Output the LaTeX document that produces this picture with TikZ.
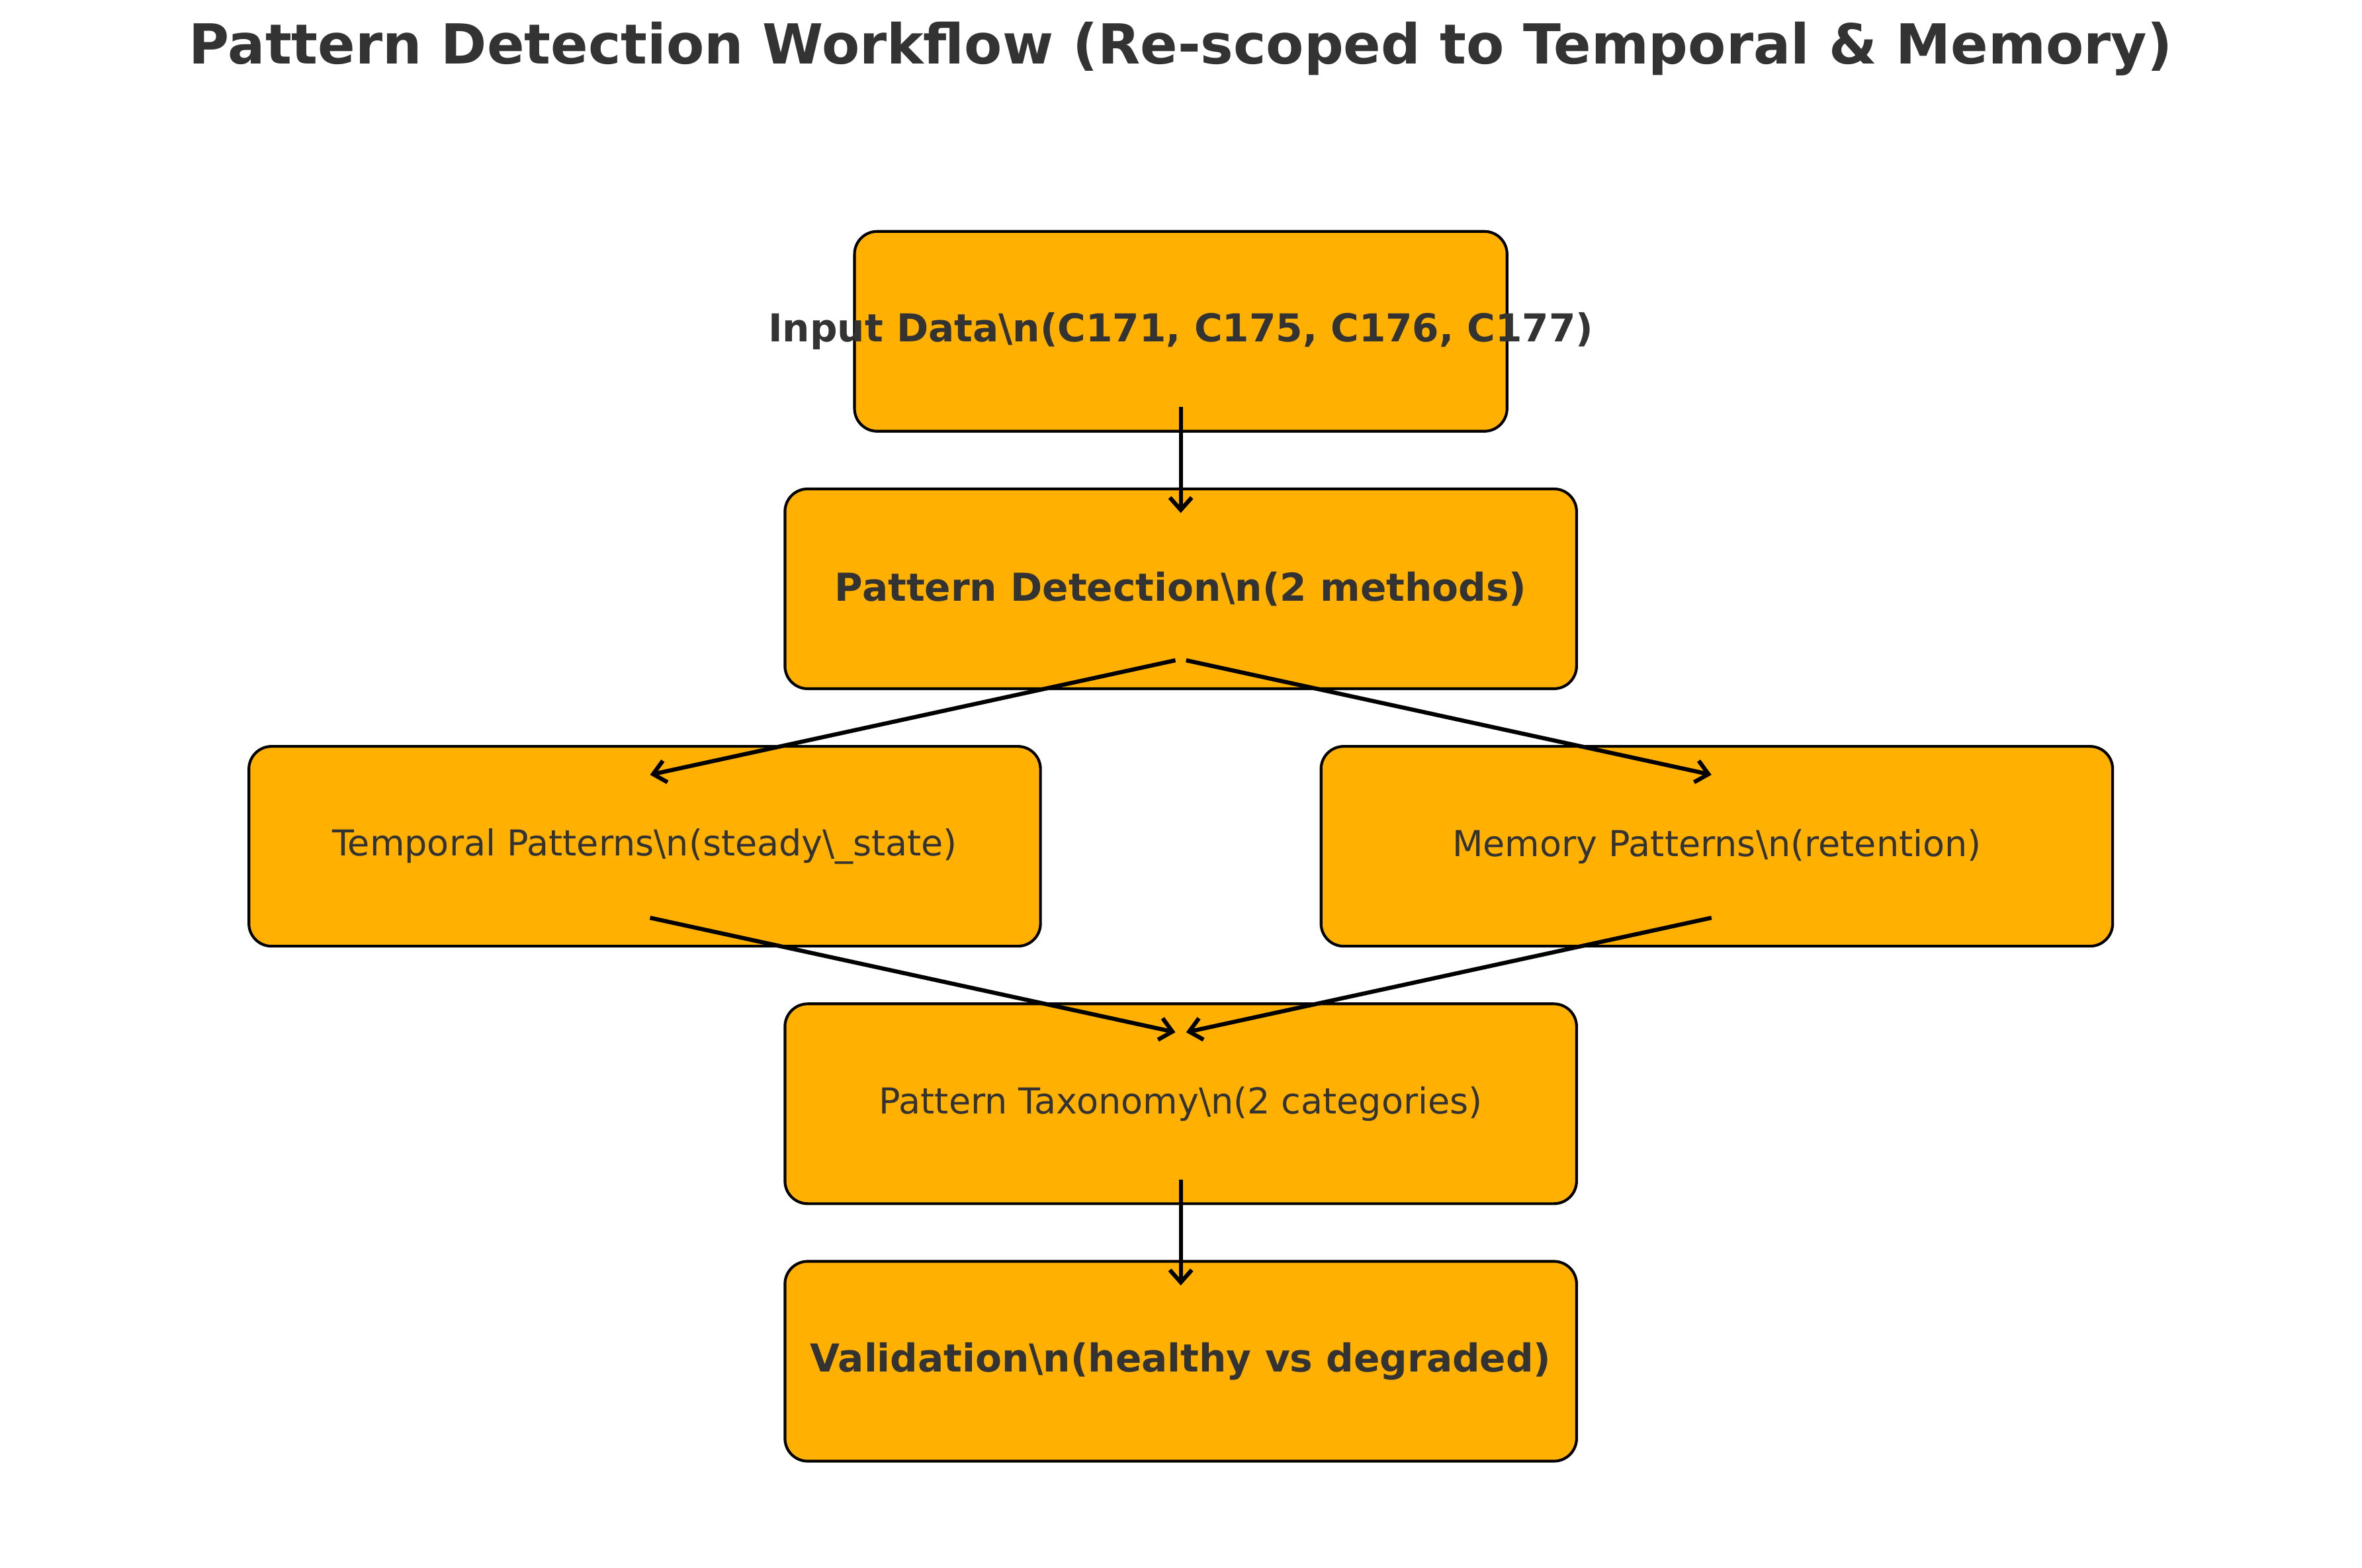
\documentclass[tikz,border=0pt]{standalone}
\usepackage{fontspec}
\setmainfont{DejaVu Sans}
\usepackage{tikz}
\usetikzlibrary{arrows.meta,positioning}
\definecolor{boxorange}{HTML}{FFB000}
\definecolor{textgray}{HTML}{333333}

\begin{document}
\begin{tikzpicture}[
    node distance=3.295cm,
    >={Straight Barb[length=4.5pt,width=8pt]},
    font=\fontsize{13}{15}\selectfont,
    block/.style={
		rectangle,
		rounded corners=0.29cm,
		draw=black,
		line width=1pt,
		fill=boxorange,
		text=textgray,
		text centered,
		inner sep=0pt,
		minimum width=10.13cm,
		minimum height=2.557cm
	},
	strong/.style={
		font=\bfseries\fontsize{14}{17}\selectfont
	},
	flow/.style={
		->,
		line width=1.5pt,
		shorten <=2pt,
		shorten >=2pt
	}
  ]
  \useasboundingbox (0,0) rectangle (30.226,-20.066);

  % title
  \node [anchor=base, text=textgray, font=\bfseries\fontsize{20.1}{24}\selectfont] (title)
    at (15.11,-0.813) {Pattern Detection Workflow (Re-scoped to Temporal \& Memory)};

  % the blocks, top to bottom
  \node [block, strong, minimum width=8.35cm] (input) at (15.11,-4.24)
    {\makebox[0pt]{Input Data\textbackslash n(C171, C175, C176, C177)}};

  \node [block, strong, below of=input] (detect)
    {Pattern Detection\textbackslash n(2 methods)};

  \node [block, below of=detect, xshift=-6.86cm] (temporal)
    {Temporal Patterns\textbackslash n(steady\textbackslash\_state)};

  \node [block, below of=detect, xshift=6.86cm] (memory)
    {Memory Patterns\textbackslash n(retention)};

  \node [block, below of=detect, yshift=-3.295cm] (taxonomy)
    {Pattern Taxonomy\textbackslash n(2 categories)};

  \node [block, strong, below of=taxonomy] (valid)
    {Validation\textbackslash n(healthy vs degraded)};

  % connectors
  \draw [flow] ([yshift=-0.9cm]input.center) -- ([yshift=0.9cm]detect.center);
  \draw [flow] ([yshift=-0.9cm]detect.center) -- ([yshift=0.9cm]temporal.center);
  \draw [flow] ([yshift=-0.9cm]detect.center) -- ([yshift=0.9cm]memory.center);
  \draw [flow] ([yshift=-0.9cm]temporal.center) -- ([yshift=0.9cm]taxonomy.center);
  \draw [flow] ([yshift=-0.9cm]memory.center) -- ([yshift=0.9cm]taxonomy.center);
  \draw [flow] ([yshift=-0.9cm]taxonomy.center) -- ([yshift=0.9cm]valid.center);

\end{tikzpicture}
\end{document}
